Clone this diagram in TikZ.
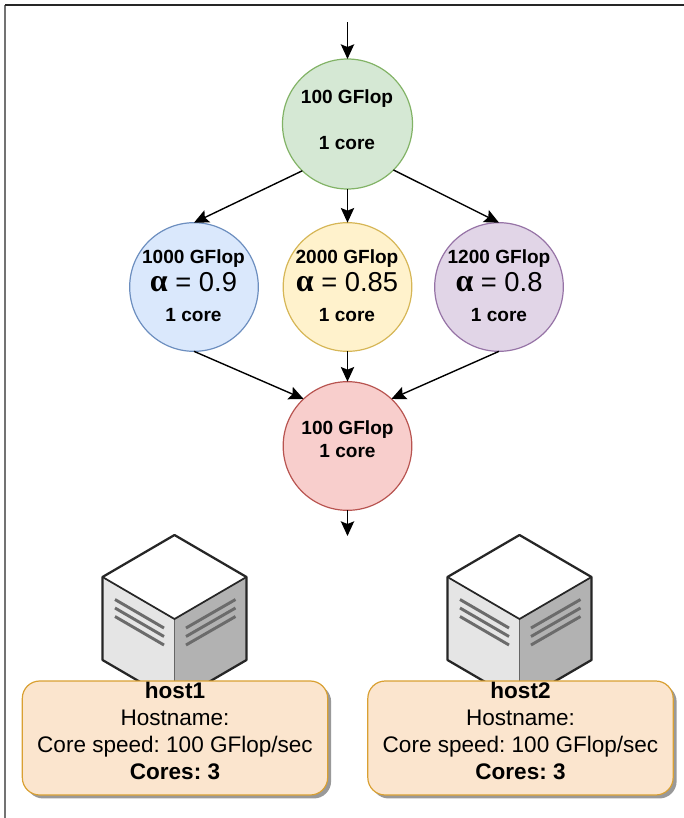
\documentclass[tikz,border=0pt]{standalone}
\usepackage{fontspec}
\setmainfont{Liberation Sans}
\newfontfamily\alfont{Liberation Serif}
\usetikzlibrary{arrows.meta,shadows,calc}
\definecolor{gfill}{HTML}{D5E8D4}\definecolor{gline}{HTML}{82B366}
\definecolor{bfill}{HTML}{DAE8FC}\definecolor{bline}{HTML}{6C8EBF}
\definecolor{yfill}{HTML}{FFF2CC}\definecolor{yline}{HTML}{D6B656}
\definecolor{pfill}{HTML}{E1D5E7}\definecolor{pline}{HTML}{9673A6}
\definecolor{rfill}{HTML}{F8CECC}\definecolor{rline}{HTML}{B85450}
\definecolor{ofill}{HTML}{FBE5CE}\definecolor{oline}{HTML}{D9A032}
\newcommand{\al}[1]{{\fontsize{20.5pt}{22pt}\selectfont\mdseries{\alfont\bfseries\fontsize{24pt}{22pt}\selectfont α} = #1}}
\newcommand{\cubeat}[1]{%
\begin{scope}[xshift=#1*0.75pt]
\fill[white] (174.5,535) -- (246.5,577) -- (174.5,619) -- (102.5,577) -- cycle;
\fill[black!10] (102.5,577) -- (174.5,619) -- (174.5,702) -- (102.5,660) -- cycle;
\fill[black!30] (246.5,577) -- (174.5,619) -- (174.5,702) -- (246.5,660) -- cycle;
\draw[cubeinner] (115,599.5) -- (164,628);
\draw[cubeinner] (115,608) -- (164,636.5);
\draw[cubeinner] (115,616.5) -- (164,645);
\draw[cubeinner] (186,628) -- (235.5,599.5);
\draw[cubeinner] (186,636.5) -- (235.5,608);
\draw[cubeinner] (186,645) -- (235.5,616.5);
\draw[line width=1.3pt,black!60] (174.5,619) -- (174.5,702);
\draw[line width=1.3pt,black!85] (102.5,577) -- (174.5,619) -- (246.5,577);
\draw[line width=1.7pt,black!85,line join=round] (174.5,535) -- (246.5,577) -- (246.5,660) -- (174.5,702) -- (102.5,660) -- (102.5,577) -- cycle;
\end{scope}}
\tikzset{
  cubeinner/.style={line width=2.2pt,black!58},
  flow/.style={line width=1.05pt,-{Stealth[length=11pt,width=10pt,inset=2pt]}},
  task/.style={circle,draw,line width=0.9pt,minimum size=96.5pt,inner sep=0pt,outer sep=0pt},
  tasktext/.style={align=center,inner sep=0pt,font=\fontsize{14.3pt}{17.25pt}\selectfont\bfseries\frenchspacing},
  hostbox/.style={draw=oline,fill=ofill,line width=0.9pt,rounded corners=13pt,minimum width=229pt,minimum height=85.5pt,inner sep=0pt,
    drop shadow={shadow xshift=2.6pt,shadow yshift=-2.6pt,fill=black!40,opacity=1}},
  hosttext/.style={align=center,inner sep=0pt,font=\fontsize{16.9pt}{20.3pt}\selectfont\frenchspacing},
}
\begin{document}
\begin{tikzpicture}[x=0.75pt,y=-0.75pt]
\useasboundingbox (0,0) rectangle (684,818);
\draw[line width=0.9pt,black!55] (5,818) -- (5,5);
\draw[line width=0.9pt,black!85] (5,5) -- (684,5);
\node[task,minimum size=97.5pt,draw=gline,fill=gfill] (g) at (347.5,124) {};
\node[task,draw=bline,fill=bfill] (b) at (194,287) {};
\node[task,draw=yline,fill=yfill] (y) at (347.5,287) {};
\node[task,draw=pline,fill=pfill] (p) at (499,287) {};
\node[task,draw=rline,fill=rfill] (r) at (347.5,446) {};
\node[tasktext] (gt) at (347,119.5) {100 GFlop\\ \\1 core};
\node[tasktext] (bt) at (193.5,285.5) {1000 GFlop\\[3pt]\al{0.9}\\[5pt]1 core};
\node[tasktext] (yt) at (347,285.5) {2000 GFlop\\[3pt]\al{0.85}\\[5pt]1 core};
\node[tasktext] (pt) at (499,285.5) {1200 GFlop\\[3pt]\al{0.8}\\[5pt]1 core};
\node[tasktext] (rt) at (347.5,439) {100 GFlop\\1 core};
\coordinate (in) at (347.5,22);
\coordinate (out) at (347.5,536);
\draw[flow] (in) -- (g.north);
\draw[flow] (g.226) -- (b.north);
\draw[flow] (g.south) -- (y.north);
\draw[flow] (g.315) -- (p.north);
\draw[flow] (b.south) -- (r.133);
\draw[flow] (y.south) -- (r.north);
\draw[flow] (p.south) -- (r.47);
\draw[flow] (r.south) -- (out);
\cubeat{0}
\cubeat{345}
\node[hostbox] (h1) at (175,738) {};
\node[hostbox] (h2) at (520.5,738) {};
\node[hosttext] (t1) at (175,731) {\textbf{host1}\\Hostname:\\Core speed: 100 GFlop/sec\\\textbf{Cores: 3}};
\node[hosttext] (t2) at (520.5,731) {\textbf{host2}\\Hostname:\\Core speed: 100 GFlop/sec\\\textbf{Cores: 3}};
\end{tikzpicture}
\end{document}
